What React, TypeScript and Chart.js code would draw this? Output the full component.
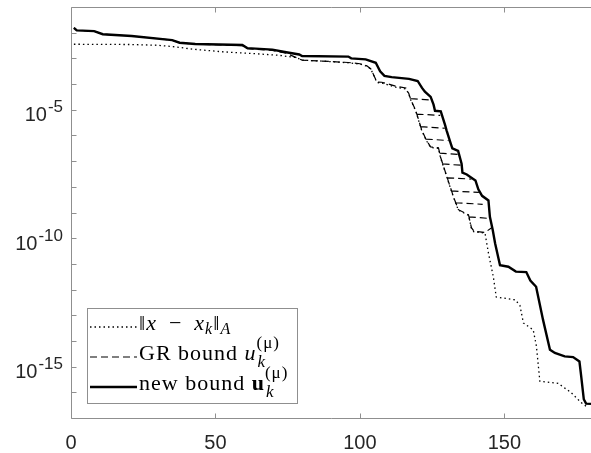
import React, { useEffect, useRef } from "react";
import { Chart, registerables } from "chart.js";

Chart.register(...registerables);

const W = 591;
const H = 453;

// ---- data (iteration k, log10 of value) ----
const errK = [1, 20, 30, 36, 42, 52, 64, 72, 78, 80, 86, 96, 100, 102.4, 103.8, 105.9, 107.6, 112.4, 115.9, 116.9, 117.6, 119.3, 121.4, 123, 124.5, 127.2, 127.9, 129.7, 130.7, 132.4, 134.1, 137.6, 138.6, 139.5, 143.3, 144.5, 146.2, 147.2, 153.8, 155.4, 156.6, 160, 161.1, 162.3, 168.6, 173, 176.6, 179];
const errLog10 = [-2.45, -2.46, -2.49, -2.55, -2.64, -2.74, -2.82, -2.88, -2.97, -3.07, -3.1, -3.17, -3.22, -3.3, -3.42, -3.94, -3.96, -4.12, -4.19, -4.38, -4.62, -5.04, -5.81, -6.2, -6.47, -6.5, -6.86, -7.48, -7.83, -8.41, -8.91, -9.11, -9.61, -9.75, -9.8, -10.58, -11.51, -12.29, -12.4, -12.62, -13.3, -13.57, -14.2, -15.57, -15.65, -16.0, -16.4, -16.6];

const newK = [1, 2, 8, 11, 21, 35, 37.6, 43, 59.3, 61, 69.7, 74.5, 79, 80, 96, 97, 102, 105.5, 107, 108.5, 111, 117, 120, 121.5, 122.5, 124.5, 125.5, 126, 128, 129.5, 130, 131.4, 132, 134, 135.2, 135.5, 137, 140, 141, 142.3, 144.5, 145, 146, 146.8, 148.5, 151.4, 154, 157.6, 159, 161, 163.4, 165.8, 167.5, 170.9, 173.8, 176, 176.6, 177.5, 178.3, 180];
const newLog10 = [-1.81, -1.91, -1.94, -2.06, -2.13, -2.29, -2.39, -2.44, -2.48, -2.6, -2.66, -2.76, -2.85, -2.91, -2.93, -3.0, -3.04, -3.17, -3.5, -3.68, -3.73, -3.8, -3.88, -4.15, -4.3, -4.5, -4.8, -5.04, -5.06, -5.6, -5.8, -6.3, -6.5, -6.6, -7.1, -7.45, -7.52, -7.75, -8.1, -8.35, -8.53, -9.17, -9.69, -10.2, -11.05, -11.11, -11.3, -11.32, -11.65, -11.89, -13.18, -14.34, -14.47, -14.6, -14.63, -14.8, -15.37, -16.27, -16.44, -16.45];

// GR bound: main trace, then short stagnation pieces (null = break)
const grK = [1, 2, 8, 11, 21, 35, 37.6, 43, 59.3, 61, 69.7, 74.5, 78, 80, 86, 96, 100, 102.4, 103.8, 105.9, 107.6, 112.4, 115.9, 116.9, 117.6, 119.3, 121.4, 123, 124.5, 127.2, 127.9, 129.7, 130.7, 132.4, 134.1, 137.6, 138.6, 139.5, 143.3, 145.5,
  null, 117.6, 124.3,
  null, 119.6, 127.8,
  null, 121.0, 129.4,
  null, 122.8, 130.7,
  null, 127.6, 134.0,
  null, 128.6, 134.9,
  null, 130.2, 138.6,
  null, 131.7, 141.2,
  null, 133.1, 142.5,
  null, 137.7, 144.6];
const grLog10 = [-1.81, -1.91, -1.94, -2.06, -2.13, -2.29, -2.39, -2.45, -2.5, -2.62, -2.69, -2.8, -2.97, -3.07, -3.1, -3.16, -3.21, -3.29, -3.41, -3.92, -3.93, -4.08, -4.15, -4.36, -4.6, -5.02, -5.79, -6.18, -6.45, -6.48, -6.84, -7.46, -7.81, -8.39, -8.89, -9.09, -9.59, -9.73, -9.78, -9.6,
  null, -4.57, -4.62,
  null, -5.17, -5.22,
  null, -5.66, -5.72,
  null, -6.14, -6.2,
  null, -6.69, -6.74,
  null, -7.11, -7.16,
  null, -7.65, -7.7,
  null, -8.16, -8.22,
  null, -8.62, -8.68,
  null, -9.17, -9.23];

const xTickValues = [0, 50, 100, 150];
const xTickLabels = ["0", "50", "100", "150"];
const yTickExps = [-16, -15, -14, -13, -12, -11, -10, -9, -8, -7, -6, -5, -4, -3, -2];
const yLabelExps = [-5, -10, -15];

type Run = { t: string; st?: string; sz?: number; dy?: number; sup?: Run; sub?: Run };
const legendRows: { dash: number[]; width: number; runs: Run[] }[] = [
  {
    dash: [1.5, 3], width: 1.3,
    runs: [
      { t: "\u2016" }, { t: "x", st: "italic" }, { t: "\u2002\u2212\u2002" }, { t: "x", st: "italic" },
      { t: "k", st: "italic", sz: 16, dy: 4 }, { t: "\u2016" }, { t: "A", st: "italic", sz: 16, dy: 4 },
    ],
  },
  {
    dash: [7, 4], width: 1.2,
    runs: [
      { t: "GR bound " }, { t: "u", st: "italic" },
      { t: "", sup: { t: "(\u03bc)", sz: 17, dy: -12 }, sub: { t: "k", st: "italic", sz: 17, dy: 7 } },
    ],
  },
  {
    dash: [], width: 2.4,
    runs: [
      { t: "new bound " }, { t: "u", st: "bold" },
      { t: "", sup: { t: "(\u03bc)", sz: 17, dy: -12 }, sub: { t: "k", st: "italic", sz: 17, dy: 7 } },
    ],
  },
];

const AXIS = "#8f8f8f";
const SANS = "'Liberation Sans', Arial, sans-serif";
const SERIF = "'Liberation Serif', 'DejaVu Serif', serif";

const toPoints = (ks: (number | null)[], logs: (number | null)[]) =>
  ks.map((k, i) => ({ x: k, y: logs[i] === null ? null : Math.pow(10, logs[i] as number) }));

function fontOf(r: Run) {
  const st = r.st || "normal";
  const sz = r.sz || 22;
  if (st === "bold") return `bold ${sz}px ${SERIF}`;
  if (st === "italic") return `italic ${sz}px ${SERIF}`;
  return `${sz}px ${SERIF}`;
}

function drawRuns(ctx: any, x: number, base: number, runs: Run[]) {
  let cx = x;
  ctx.letterSpacing = "1px";
  for (const r of runs) {
    if (r.sup && r.sub) {
      ctx.font = fontOf(r.sup);
      ctx.fillText(r.sup.t, cx, base + (r.sup.dy || 0));
      const w1 = ctx.measureText(r.sup.t).width;
      ctx.font = fontOf(r.sub);
      ctx.fillText(r.sub.t, cx + 1, base + (r.sub.dy || 0));
      const w2 = ctx.measureText(r.sub.t).width;
      cx += Math.max(w1, w2);
    } else {
      ctx.font = fontOf(r);
      ctx.fillText(r.t, cx, base + (r.dy || 0));
      cx += ctx.measureText(r.t).width;
    }
  }
  ctx.letterSpacing = "0px";
}

const decorPlugin = {
  id: "decor",
  beforeDraw(chart: any) {
    const ctx = chart.ctx;
    ctx.save();
    ctx.fillStyle = "#fff";
    ctx.fillRect(0, 0, chart.width, chart.height);
    ctx.restore();
  },
  afterDatasetsDraw(chart: any) {
    const { ctx, chartArea: a } = chart;
    const xs = chart.scales.x;
    const ys = chart.scales.y;
    ctx.save();
    ctx.strokeStyle = AXIS;
    ctx.lineWidth = 1;
    ctx.setLineDash([]);
    ctx.beginPath();
    const L = Math.round(a.left) + 0.5;
    const B = Math.round(a.bottom) + 0.5;
    const T = Math.round(a.top) + 0.5;
    ctx.moveTo(L, T);
    ctx.lineTo(L, B);
    ctx.lineTo(a.right, B);
    ctx.moveTo(L, T);
    ctx.lineTo(a.right, T);
    for (const v of xTickValues) {
      const px = Math.round(xs.getPixelForValue(v)) + 0.5;
      ctx.moveTo(px, B);
      ctx.lineTo(px, B - 5);
      ctx.moveTo(px, T);
      ctx.lineTo(px, T + 5);
    }
    for (const e of yTickExps) {
      const py = Math.round(ys.getPixelForValue(Math.pow(10, e))) + 0.5;
      ctx.moveTo(L, py);
      ctx.lineTo(L + 5, py);
    }
    ctx.stroke();

    // tick labels
    ctx.fillStyle = "#262626";
    ctx.textBaseline = "alphabetic";
    ctx.font = `20px ${SANS}`;
    ctx.textAlign = "center";
    xTickValues.forEach((v, i) => {
      ctx.fillText(xTickLabels[i], xs.getPixelForValue(v), 449);
    });
    ctx.textAlign = "left";
    for (const e of yLabelExps) {
      const py = ys.getPixelForValue(Math.pow(10, e));
      const exp = String(e);
      ctx.font = `17px ${SANS}`;
      const ew = ctx.measureText(exp).width;
      ctx.font = `20px ${SANS}`;
      const bw = ctx.measureText("10").width;
      const right = 63;
      ctx.fillText("10", right - ew - bw - 1, py + 11.5);
      ctx.font = `17px ${SANS}`;
      ctx.fillText(exp, right - ew, py + 2.5);
    }

    // legend
    const bx = 87.5, by = 308.5, bw2 = 210, bh = 95;
    ctx.fillStyle = "#fff";
    ctx.fillRect(bx, by, bw2, bh);
    ctx.strokeStyle = AXIS;
    ctx.lineWidth = 1;
    ctx.strokeRect(bx, by, bw2, bh);
    const rowY = [327, 357, 387];
    legendRows.forEach((row, i) => {
      ctx.strokeStyle = "#000";
      ctx.lineWidth = row.width;
      ctx.setLineDash(row.dash);
      ctx.beginPath();
      ctx.moveTo(90, rowY[i]);
      ctx.lineTo(137, rowY[i]);
      ctx.stroke();
      ctx.setLineDash([]);
      ctx.fillStyle = "#000";
      drawRuns(ctx, 139, rowY[i] + 3, row.runs);
    });
    ctx.restore();
  },
};

export default function App() {
  const ref = useRef<HTMLCanvasElement | null>(null);
  useEffect(() => {
    if (!ref.current) return;
    const chart = new Chart(ref.current, {
      type: "scatter",
      data: {
        datasets: [
          {
            label: "new bound",
            data: toPoints(newK, newLog10) as any,
            showLine: true,
            borderColor: "#000",
            borderWidth: 2.4,
            pointRadius: 0,
            spanGaps: false,
            order: 0,
          },
          {
            label: "GR bound",
            data: toPoints(grK, grLog10) as any,
            showLine: true,
            borderColor: "#000",
            borderWidth: 1.2,
            borderDash: [7, 4],
            pointRadius: 0,
            spanGaps: false,
            order: 1,
          },
          {
            label: "error",
            data: toPoints(errK, errLog10) as any,
            showLine: true,
            borderColor: "#000",
            borderWidth: 1.3,
            borderDash: [1.5, 3],
            pointRadius: 0,
            spanGaps: false,
            order: 2,
          },
        ],
      },
      options: {
        animation: false,
        responsive: false,
        devicePixelRatio: 1,
        events: [],
        layout: { padding: { left: 71, top: 7, right: 0, bottom: 35 } },
        plugins: { legend: { display: false }, tooltip: { enabled: false } },
        elements: { point: { radius: 0 }, line: { tension: 0 } },
        scales: {
          x: { type: "linear", min: 0, max: 180, display: false },
          y: { type: "logarithmic", min: 1e-17, max: 1e-1, display: false },
        },
      },
      plugins: [decorPlugin],
    });
    return () => chart.destroy();
  }, []);
  return (
    <div style={{ position: "fixed", left: 0, top: 0, width: W, height: H, background: "#fff" }}>
      <canvas ref={ref} width={W} height={H} style={{ display: "block", width: W, height: H }} />
    </div>
  );
}
